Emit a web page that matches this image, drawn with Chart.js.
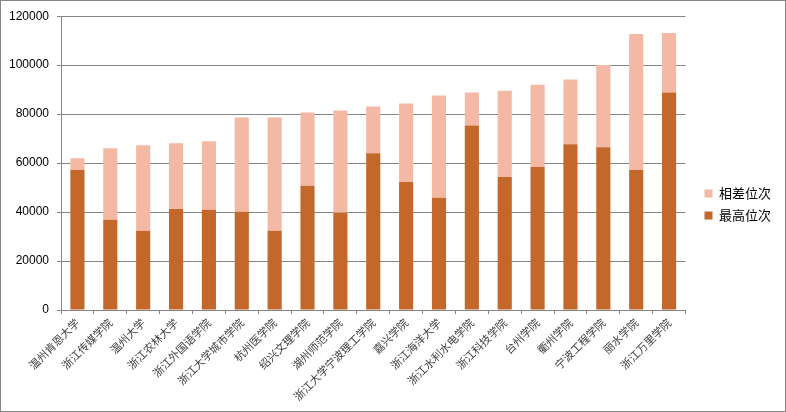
<!DOCTYPE html>
<html>
<head>
<meta charset="utf-8">
<script src="https://cdn.jsdelivr.net/npm/chart.js@4/dist/chart.umd.min.js"></script>
<style>
  html, body { margin: 0; padding: 0; background: #fff; }
  #wrap {
    width: 786px; height: 412px; box-sizing: border-box;
    border: 1px solid #868686; position: relative;
  }
  canvas { display: block; }
</style>
</head>
<body>
<div id="wrap"><canvas id="rankChart" width="784" height="410"></canvas></div>
<script>
// universities, sorted by lowest admitted rank
const schools = [
  "温州肯恩大学", "浙江传媒学院", "温州大学", "浙江农林大学", "浙江外国语学院",
  "浙江大学城市学院", "杭州医学院", "绍兴文理学院", "湖州师范学院", "浙江大学宁波理工学院",
  "嘉兴学院", "浙江海洋大学", "浙江水利水电学院", "浙江科技学院", "台州学院",
  "衢州学院", "宁波工程学院", "丽水学院", "浙江万里学院"
];

// 最高位次 (best rank)
const bestRank = [
  57200, 36900, 32400, 41300, 40900,
  40100, 32400, 50700, 39700, 64000,
  52300, 45800, 75400, 54300, 58400,
  67700, 66500, 57200, 88800
];

// 相差位次 (gap up to lowest rank)
const rankGap = [
  4800, 29200, 34900, 26800, 28000,
  38500, 46200, 30000, 41800, 19100,
  32000, 41800, 13400, 35300, 33600,
  26400, 33600, 55500, 24300
];

const yTicks = [0, 20000, 40000, 60000, 80000, 100000, 120000];

const grey = "#868686";

// nudge the legend block a bit right and up, like the Excel original
const legendNudge = {
  id: "legendNudge",
  afterLayout(chart) {
    const lg = chart.legend;
    if (!lg) return;
    lg.left += 10; lg.right += 10;
    lg.top -= 8; lg.bottom -= 8;
    lg.adjustHitBoxes();
  }
};

const ctx = document.getElementById("rankChart").getContext("2d");

window.rankChart = new Chart(ctx, {
  type: "bar",
  data: {
    labels: schools,
    datasets: [
      {
        label: "最高位次",
        data: bestRank,
        backgroundColor: "#C4672A",
        barPercentage: 0.43,
        categoryPercentage: 1
      },
      {
        label: "相差位次",
        data: rankGap,
        backgroundColor: "#F4B9A5",
        barPercentage: 0.43,
        categoryPercentage: 1
      }
    ]
  },
  options: {
    responsive: false,
    animation: false,
    layout: { padding: { top: 13, right: 14, left: 0, bottom: 0 } },
    plugins: {
      legend: {
        position: "right",
        reverse: true,
        labels: {
          boxWidth: 8,
          boxHeight: 8,
          padding: 9,
          color: "#000",
          font: { family: "'Noto Sans CJK SC'", size: 13 }
        }
      },
      tooltip: { enabled: false }
    },
    scales: {
      x: {
        stacked: true,
        grid: {
          offset: true,
          drawOnChartArea: false,
          color: grey,
          tickLength: 4
        },
        border: { color: grey },
        ticks: {
          autoSkip: false,
          maxRotation: 45,
          minRotation: 45,
          color: "#404040",
          padding: 2,
          font: { family: "'Noto Sans CJK SC'", size: 11 }
        },
        afterFit: s => { s.height = 101; }
      },
      y: {
        stacked: true,
        min: 0,
        max: 120000,
        afterBuildTicks: s => { s.ticks = yTicks.map(v => ({ value: v })); },
        grid: { color: grey, tickLength: 4 },
        border: { color: grey },
        ticks: {
          color: "#000",
          padding: 8,
          callback: v => String(v),
          font: { family: "'Liberation Sans'", size: 12 }
        },
        afterFit: s => { s.width = 60; }
      }
    }
  },
  plugins: [legendNudge]
});
</script>
</body>
</html>
